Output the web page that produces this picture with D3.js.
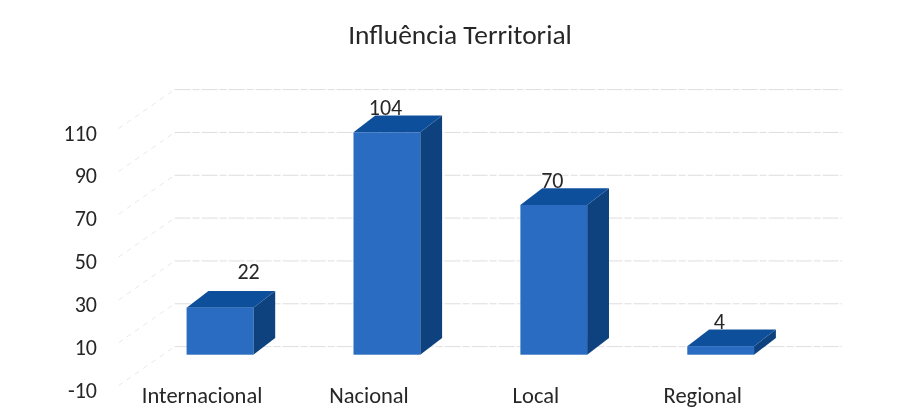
<!DOCTYPE html>
<html><head><meta charset="utf-8">
<script src="https://cdn.jsdelivr.net/npm/d3@7"></script>
<style>html,body{margin:0;padding:0;background:#fff}svg{display:block}text{font-family:Carlito,Lato,"Open Sans",sans-serif;fill:#262626}</style>
</head><body><svg id="c" width="900" height="419"></svg>
<script>
const title = "Influência Territorial";
const categories = ["Internacional","Nacional","Local","Regional"];
const values = [22,104,70,4];
const tickValues = [-10,10,30,50,70,90,110];

const depthX = 56, depthY = 43;      // projection of the full floor depth
const barStart = 0.32, barDepth = 0.39; // bar position inside the depth
const svg = d3.select("#c");
const defs = svg.append("defs");
defs.append("filter").attr("id","scan").attr("x","-5%").attr("y","-5%").attr("width","110%").attr("height","110%")
  .append("feGaussianBlur").attr("stdDeviation",0.45);
const g = svg.append("g").attr("filter","url(#scan)");

const x = d3.scaleBand().domain(categories).range([118.6,786.2]).paddingInner(0.6).paddingOuter(0.3);
const yv = d3.scaleLinear().domain([0,104]).range([354.7,132.3]);
const yFront = d3.scaleLinear().domain([-10,110]).range([389.6,132.6]);

g.append("text").attr("x",460).attr("y",44).attr("text-anchor","middle").attr("font-size",27.4).text(title);

tickValues.forEach(t=>{
  const yf = yFront(t);
  g.append("line").attr("x1",118.6).attr("y1",yf-4).attr("x2",118.6+depthX).attr("y2",yf-depthY)
    .attr("stroke","#e8e8e8").attr("stroke-width",1).attr("stroke-dasharray","5 5");
  g.append("line").attr("x1",118.6+depthX).attr("y1",yf-depthY).attr("x2",842).attr("y2",yf-depthY)
    .attr("stroke","#dadada").attr("stroke-width",0.9).attr("stroke-dasharray","16 2 7 2");
  g.append("text").attr("x",97).attr("y",yf+8).attr("text-anchor","end").attr("font-size",22).text(t);
});

const labelNudge = {Internacional:[30,-11.5]};
const dx0 = depthX*barStart, dX = depthX*barDepth, dY = depthY*barDepth;
const pts = a=>a.map(p=>p.join(",")).join(" ");
categories.forEach((c,i)=>{
  const l = x(c)+dx0, w = x.bandwidth(), r = l+w, b = yv(0), t = yv(values[i]);
  g.append("polygon").attr("points",pts([[r,t],[r+dX,t-dY],[r+dX,b-dY],[r,b]])).attr("fill","#0f437f");
  g.append("polygon").attr("points",pts([[l,t],[l+dX,t-dY],[r+dX,t-dY],[r,t]])).attr("fill","#10509a");
  g.append("rect").attr("x",l).attr("y",t).attr("width",w).attr("height",b-t).attr("fill","#2a6cc2");
  const n = labelNudge[c]||[0,0];
  g.append("text").attr("x",l+32+n[0]).attr("y",t-17.5+n[1]).attr("text-anchor","middle").attr("font-size",22).text(values[i]);
  g.append("text").attr("x",l+15.5).attr("y",403).attr("text-anchor","middle").attr("font-size",22.5).text(c);
});
</script></body></html>
